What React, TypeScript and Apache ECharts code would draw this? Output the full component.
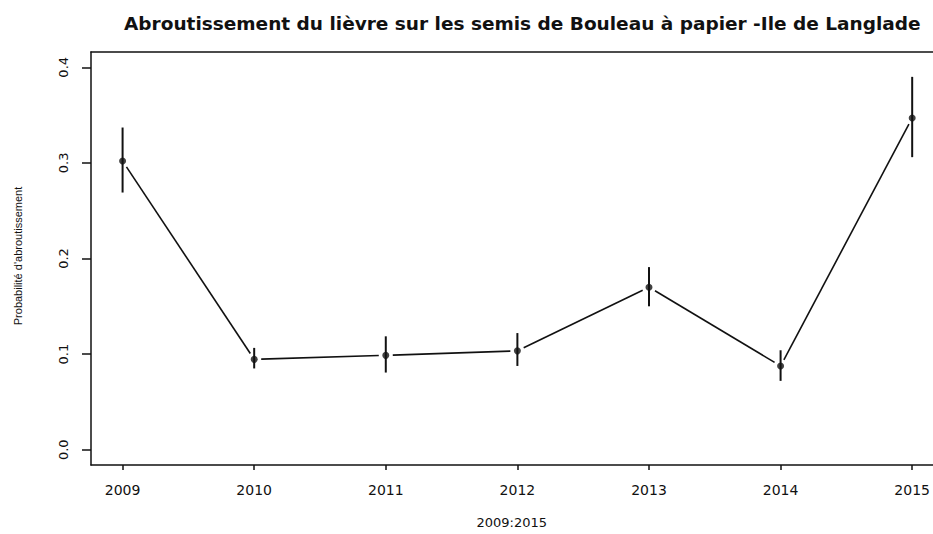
import React, { useEffect, useRef } from "react";
import * as echarts from "echarts";

const years = [2009, 2010, 2011, 2012, 2013, 2014, 2015];
const prob = [0.302, 0.0945, 0.0987, 0.1034, 0.17, 0.0876, 0.347];
const lower = [0.269, 0.085, 0.0807, 0.0876, 0.15, 0.072, 0.306];
const upper = [0.337, 0.1065, 0.1186, 0.122, 0.191, 0.104, 0.39];
const yTicks = [0, 0.1, 0.2, 0.3, 0.4];

const titleText = "Abroutissement du lièvre sur les semis de Bouleau à papier -Ile de Langlade";
const xName = "2009:2015";
const yName = "Probabilité d'abroutissement";

const INK = "#111";

export default function App() {
  const ref = useRef<HTMLDivElement>(null);
  useEffect(() => {
    if (!ref.current) return;
    const chart = echarts.init(ref.current, null, { renderer: "svg" });
    const errData = years.map((y, i) => [y, lower[i], upper[i]]);
    const segData = years.map((y, i) =>
      i === 0 ? [y, prob[i], y, prob[i]] : [y, prob[i], years[i - 1], prob[i - 1]]
    );
    const option: any = {
      animation: false,
      backgroundColor: "#fff",
      title: {
        text: titleText,
        left: 119,
        top: 9,
        textStyle: { fontFamily: "DejaVu Sans", fontWeight: "bold", fontSize: 18.5, color: INK },
      },
      graphic: [
        {
          type: "text",
          x: 18,
          y: 256,
          rotation: Math.PI / 2,
          style: {
            text: yName,
            fontFamily: "Liberation Sans",
            fontSize: 11,
            fill: INK,
            align: "center",
            verticalAlign: "middle",
          },
        },
      ],
      grid: { left: 91, right: 0, top: 52, bottom: 63.5 },
      xAxis: [
        {
          type: "value",
          min: 2008.76,
          max: 2015.155,
          name: xName,
          nameLocation: "middle",
          nameGap: 51,
          nameTextStyle: { fontFamily: "DejaVu Sans", fontSize: 13, color: INK },
          axisLine: { show: true, onZero: false, lineStyle: { color: INK, width: 1.5 } },
          axisTick: { show: true, length: 5, customValues: years, lineStyle: { color: INK, width: 1.5 } },
          axisLabel: {
            customValues: years,
            margin: 17.5,
            fontFamily: "DejaVu Sans",
            fontSize: 14,
            color: INK,
            formatter: (v: number) => String(Math.round(v)),
          },
          splitLine: { show: false },
        },
        {
          type: "value",
          position: "top",
          min: 2008.76,
          max: 2015.155,
          axisLine: { show: true, onZero: false, lineStyle: { color: INK, width: 1.5 } },
          axisTick: { show: false },
          axisLabel: { show: false },
          splitLine: { show: false },
        },
      ],
      yAxis: {
        type: "value",
        min: -0.016,
        max: 0.416,
        axisLine: { show: true, onZero: false, lineStyle: { color: INK, width: 1.5 } },
        axisTick: { show: true, length: 9, customValues: yTicks, lineStyle: { color: INK, width: 1.5 } },
        axisLabel: {
          customValues: yTicks,
          rotate: 90,
          margin: 21,
          fontFamily: "DejaVu Sans",
          fontSize: 13,
          color: INK,
          formatter: (v: number) => v.toFixed(1),
        },
        splitLine: { show: false },
      },
      series: [
        {
          type: "custom",
          data: segData,
          renderItem: (params: any, api: any) => {
            const i = params.dataIndex;
            if (i === 0) return null;
            const p1 = api.coord([api.value(0), api.value(1)]);
            const p0 = api.coord([api.value(2), api.value(3)]);
            const dx = p1[0] - p0[0];
            const dy = p1[1] - p0[1];
            const len = Math.sqrt(dx * dx + dy * dy);
            const g = 7;
            const ux = dx / len;
            const uy = dy / len;
            return {
              type: "line",
              shape: {
                x1: p0[0] + ux * g,
                y1: p0[1] + uy * g,
                x2: p1[0] - ux * g,
                y2: p1[1] - uy * g,
              },
              style: { stroke: INK, lineWidth: 1.6 },
            };
          },
        },
        {
          type: "custom",
          data: errData,
          renderItem: (params: any, api: any) => {
            const a = api.coord([api.value(0), api.value(1)]);
            const b = api.coord([api.value(0), api.value(2)]);
            return {
              type: "line",
              shape: { x1: a[0], y1: a[1], x2: b[0], y2: b[1] },
              style: { stroke: INK, lineWidth: 2 },
            };
          },
        },
        {
          type: "scatter",
          data: years.map((y, i) => [y, prob[i]]),
          symbol: "circle",
          symbolSize: 7,
          itemStyle: { color: INK },
        },
      ],
    };
    chart.setOption(option);
    return () => chart.dispose();
  }, []);
  return (
    <div
      ref={ref}
      style={{ position: "fixed", left: 0, top: 0, width: 933, height: 534 }}
    />
  );
}
